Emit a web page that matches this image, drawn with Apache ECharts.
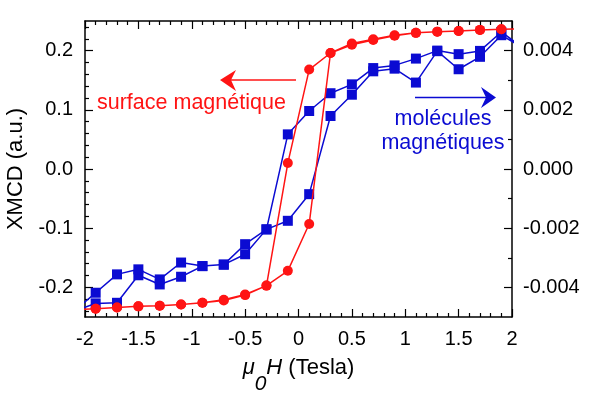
<!DOCTYPE html>
<html>
<head>
<meta charset="utf-8">
<script src="https://cdn.jsdelivr.net/npm/echarts@6/dist/echarts.min.js"></script>
<style>
html, body { margin: 0; padding: 0; background: #fff; }
#chart { width: 590px; height: 397px; }
</style>
</head>
<body>
<div id="chart"></div>
<script>
// champ appliqué (T), les points à +-2.1 sont hors cadre (coupés)
var field = [-2.1, -1.9, -1.7, -1.5, -1.3, -1.1, -0.9, -0.7, -0.5, -0.3, -0.1,
             0.1, 0.3, 0.5, 0.7, 0.9, 1.1, 1.3, 1.5, 1.7, 1.9, 2.1];

// surface (axe gauche)
var redUp   = [-0.238, -0.236, -0.234, -0.232, -0.231, -0.229, -0.226, -0.222, -0.213, -0.197, -0.172,
               -0.093, 0.196, 0.210, 0.218, 0.225, 0.230, 0.232, 0.233, 0.235, 0.236, 0.237];
var redDown = [-0.238, -0.236, -0.234, -0.232, -0.231, -0.229, -0.226, -0.221, -0.212, -0.197, 0.010,
               0.168, 0.196, 0.212, 0.219, 0.226, 0.230, 0.232, 0.233, 0.235, 0.236, 0.237];

// molécules (axe droit)
var blueUp   = [-0.0048, -0.00454, -0.00452, -0.00359, -0.00390, -0.00364, -0.00328, -0.00323, -0.00288, -0.00204, -0.00175,
                -0.00085, 0.00179, 0.00251, 0.00330, 0.00339, 0.00292, 0.00398, 0.00337, 0.00379, 0.00452, 0.0041];
var blueDown = [-0.0048, -0.00418, -0.00356, -0.00339, -0.00373, -0.00316, -0.00328, -0.00323, -0.00254, -0.00204, 0.00117,
                0.00196, 0.00256, 0.00286, 0.00341, 0.00350, 0.00373, 0.00400, 0.00388, 0.00399, 0.00463, 0.0041];

var leftTicks  = [-0.2, -0.1, 0, 0.1, 0.2];
var leftMinor  = [-0.24, -0.22, -0.18, -0.16, -0.14, -0.12, -0.08, -0.06, -0.04, -0.02,
                  0.02, 0.04, 0.06, 0.08, 0.12, 0.14, 0.16, 0.18, 0.22, 0.24];
var rightTicks = [-0.004, -0.002, 0, 0.002, 0.004];
var rightMinor = [-0.003, -0.001, 0.001, 0.003];

var RED = '#ff1414';
var BLUE = '#0b0bd2';
var FONT = 'Liberation Sans';

// boucle : montée puis descente
function loop(up, down) {
  var pts = [];
  for (var i = 0; i < field.length; i++) pts.push([field[i], up[i]]);
  for (var j = field.length - 1; j >= 0; j--) pts.push([field[j], down[j]]);
  return pts;
}

var chart = echarts.init(document.getElementById('chart'));

var axisLine = { show: true, onZero: false, lineStyle: { color: '#000', width: 1.5 } };
var noLine = { show: false, onZero: false };

var option = {
  animation: false,
  backgroundColor: '#fff',
  grid: { left: 85, right: 78, top: 21, bottom: 80, outerBoundsMode: 'none', containLabel: false },
  xAxis: [
    {
      type: 'value', position: 'bottom',
      min: -2, max: 2, interval: 0.5,
      axisLine: axisLine,
      axisTick: { inside: true, length: 8, lineStyle: { color: '#000', width: 1.2 } },
      minorTick: { show: true, splitNumber: 5, length: 4, lineStyle: { color: '#000', width: 1.2 } },
      splitLine: { show: false },
      axisLabel: { color: '#000', fontSize: 20, fontFamily: FONT, margin: 12 },
      name: '{i|μ}{sub|0}{i|H}{n| (Tesla)}',
      nameLocation: 'middle',
      nameGap: 40,
      nameTextStyle: {
        color: '#000',
        rich: {
          i: { fontSize: 22, fontFamily: FONT, fontStyle: 'italic', lineHeight: 24, verticalAlign: 'top', color: '#000' },
          sub: { fontSize: 21, fontFamily: FONT, fontStyle: 'italic', lineHeight: 54, verticalAlign: 'middle', color: '#000' },
          n: { fontSize: 22, fontFamily: FONT, lineHeight: 24, verticalAlign: 'top', color: '#000' }
        }
      }
    },
    {
      type: 'value', position: 'top',
      min: -2, max: 2, interval: 0.5,
      axisLine: axisLine,
      axisTick: { inside: true, length: 8, lineStyle: { color: '#000', width: 1.2 } },
      minorTick: { show: true, splitNumber: 5, length: 4, lineStyle: { color: '#000', width: 1.2 } },
      splitLine: { show: false },
      axisLabel: { show: false }
    }
  ],
  yAxis: [
    {
      type: 'value', position: 'left',
      min: -0.25, max: 0.25,
      axisLine: axisLine,
      axisTick: { inside: true, length: 8, customValues: leftTicks, lineStyle: { color: '#000', width: 1.2 } },
      splitLine: { show: false },
      axisLabel: {
        customValues: leftTicks, color: '#000', fontSize: 20, fontFamily: FONT, margin: 12,
        formatter: function (v) { return v.toFixed(1); }
      },
      name: 'XMCD (a.u.)',
      nameLocation: 'middle',
      nameGap: 58,
      nameTextStyle: { color: '#000', fontSize: 22, fontFamily: FONT }
    },
    {
      type: 'value', position: 'right',
      min: -0.005, max: 0.005,
      axisLine: axisLine,
      axisTick: { inside: true, length: 8, customValues: rightTicks, lineStyle: { color: '#000', width: 1.2 } },
      splitLine: { show: false },
      axisLabel: {
        customValues: rightTicks, color: '#000', fontSize: 20, fontFamily: FONT, margin: 11,
        formatter: function (v) { return v.toFixed(3); }
      }
    },
    {
      // petites graduations gauche
      type: 'value', position: 'left',
      min: -0.25, max: 0.25,
      axisLine: noLine,
      axisTick: { inside: true, length: 4, customValues: leftMinor, lineStyle: { color: '#000', width: 1.2 } },
      splitLine: { show: false },
      axisLabel: { show: false }
    },
    {
      // petites graduations droite
      type: 'value', position: 'right',
      min: -0.005, max: 0.005,
      axisLine: noLine,
      axisTick: { inside: true, length: 4, customValues: rightMinor, lineStyle: { color: '#000', width: 1.2 } },
      splitLine: { show: false },
      axisLabel: { show: false }
    }
  ],
  series: [
    {
      name: 'molécules magnétiques',
      type: 'line',
      yAxisIndex: 1,
      data: loop(blueUp, blueDown),
      symbol: 'rect',
      symbolSize: 10,
      lineStyle: { color: BLUE, width: 1.5 },
      itemStyle: { color: BLUE },
      z: 2
    },
    {
      name: 'surface magnétique',
      type: 'line',
      yAxisIndex: 0,
      data: loop(redUp, redDown),
      symbol: 'circle',
      symbolSize: 10,
      lineStyle: { color: RED, width: 1.5 },
      itemStyle: { color: RED },
      z: 3
    }
  ],
  graphic: [
    { type: 'line', shape: { x1: 231, y1: 80, x2: 296, y2: 80 }, style: { stroke: RED, lineWidth: 1.5 } },
    { type: 'polygon', shape: { points: [[220, 80], [236, 70], [231, 80], [236, 91]] }, style: { fill: RED } },
    {
      type: 'text', x: 97, y: 103,
      style: { text: 'surface magnétique', fill: RED, fontSize: 21.5, fontFamily: FONT, align: 'left', verticalAlign: 'middle' }
    },
    { type: 'line', shape: { x1: 415, y1: 97.5, x2: 486, y2: 97.5 }, style: { stroke: BLUE, lineWidth: 1.5 } },
    { type: 'polygon', shape: { points: [[496, 97.5], [481, 87], [486, 97.5], [481, 108]] }, style: { fill: BLUE } },
    {
      type: 'text', x: 443, y: 119,
      style: { text: 'molécules', fill: BLUE, fontSize: 21.5, fontFamily: FONT, align: 'center', verticalAlign: 'middle' }
    },
    {
      type: 'text', x: 443, y: 143,
      style: { text: 'magnétiques', fill: BLUE, fontSize: 21.5, fontFamily: FONT, align: 'center', verticalAlign: 'middle' }
    }
  ]
};

chart.setOption(option);
</script>
</body>
</html>
